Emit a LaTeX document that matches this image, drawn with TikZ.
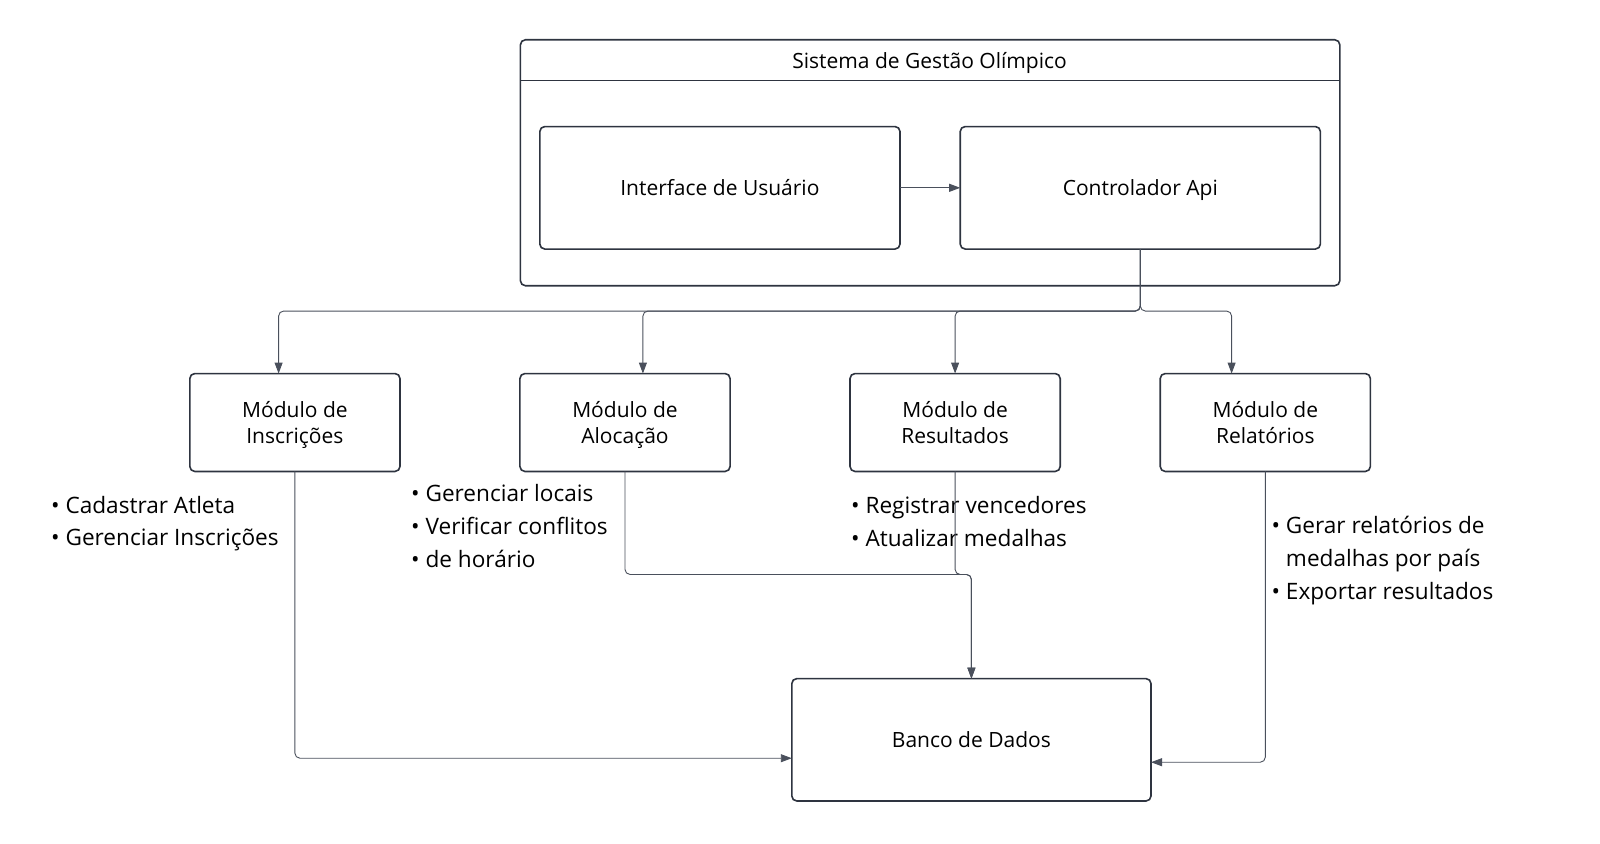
\documentclass[tikz,border=0pt]{standalone}
\usepackage{fontspec}
\setmainfont{Open Sans}
\usetikzlibrary{arrows.meta}
\definecolor{edge}{HTML}{2E3440}
\definecolor{wire}{HTML}{4A505C}
\tikzset{
  box/.style={draw=edge, line width=1.6pt, rounded corners=5pt, fill=white, inner sep=0pt, outer sep=0pt, align=center, font=\fontsize{21}{25.5}\selectfont},
  onel/.style={box, text height=20pt, text depth=4pt},
  modbox/.style={box, minimum width=210.2pt, minimum height=97.9pt, text depth=-1pt},
  wire/.style={draw=wire, line width=0.9pt, rounded corners=5pt},
  arr/.style={wire, -{Triangle[length=11pt,width=8pt]}},
  notes/.style={anchor=west, align=left, inner sep=0pt, font=\fontsize{22.6}{32.6}\selectfont}
}
\begin{document}
\begin{tikzpicture}[x=1pt,y=-1pt]
\useasboundingbox (0,0) rectangle (1600,843);
% frame
\node[box, minimum width=819.4pt, minimum height=245.9pt] (frame) at (930.1,162.75) {};
\coordinate (hl) at (520.4,80.6);
\coordinate (hr) at (1339.8,80.6);
\draw[draw=edge, line width=1.6pt] (hl) -- (hr);
\node[font=\fontsize{21}{22}\selectfont, inner sep=0pt] (title) at (929.6,63) {Sistema de Gestão Olímpico};
% inner boxes
\node[onel, minimum width=360.2pt, minimum height=122.5pt] (ui) at (719.9,187.8) {Interface de Usuário};
\node[onel, minimum width=360.2pt, minimum height=122.5pt] (api) at (1140.3,187.8) {Controlador Api};
% modules
\node[modbox] (insc) at (294.9,422.5) {Módulo de\\Inscrições};
\node[modbox] (aloc) at (625,422.5) {Módulo de\\Alocação};
\node[modbox] (res) at (955.1,422.5) {Módulo de\\Resultados};
\node[modbox] (rel) at (1265.3,422.5) {Módulo de\\Relatórios};
% database
\node[onel, minimum width=359.2pt, minimum height=122.4pt] (db) at (971.4,739.8) {Banco de Dados};
% notes
\node[notes] (n1) at (51,523.5) {• Cadastrar Atleta\\• Gerenciar Inscrições};
\node[notes] (n2) at (411,526) {• Gerenciar locais\\• Verificar conflitos\\• de horário};
\node[notes] (n3) at (851,521.8) {• Registrar vencedores\\• Atualizar medalhas};
\node[notes] (n4) at (1271.4,560.6) {• Gerar relatórios de\\\phantom{•\ }medalhas por país\\• Exportar resultados};
% connectors
\draw[arr] (ui.east) -- (api.west);
\draw[arr] (api.south) -- ++(0,62) -| ([xshift=-16.3pt]insc.north);
\draw[arr] (api.south) -- ++(0,62) -| ([xshift=17.9pt]aloc.north);
\draw[arr] (api.south) -- ++(0,62) -| (res.north);
\draw[arr] (api.south) -- ++(0,62) -| ([xshift=-33.7pt]rel.north);
\draw[arr] (insc.south) |- ([yshift=-18.4pt]db.west);
\draw[arr] (aloc.south) -- ++(0,103) -| (db.north);
\draw[arr] (res.south) -- ++(0,103) -| (db.north);
\draw[arr] (rel.south) |- ([yshift=-22.4pt]db.east);
\end{tikzpicture}
\end{document}
